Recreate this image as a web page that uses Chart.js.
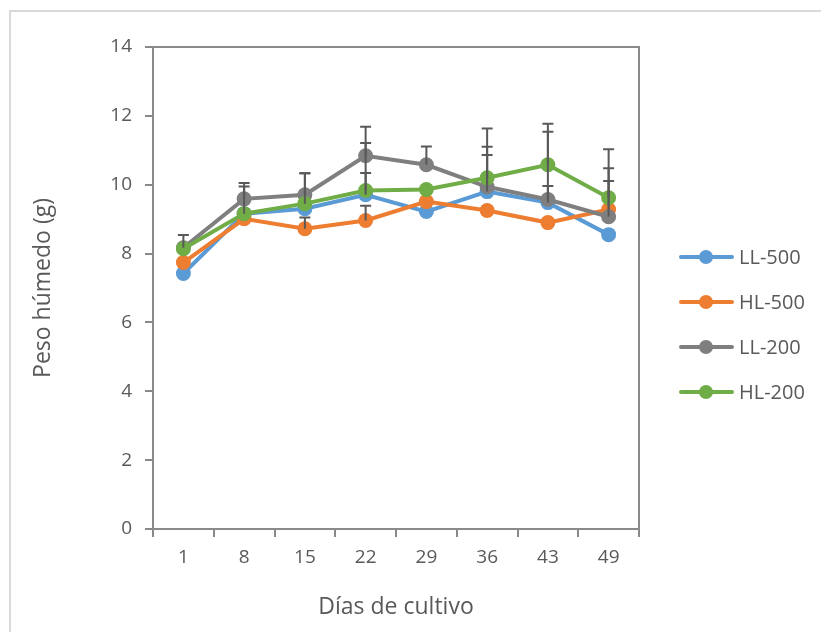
<!DOCTYPE html>
<html>
<head>
<meta charset="utf-8">
<script src="https://cdn.jsdelivr.net/npm/chart.js@4.4.0/dist/chart.umd.min.js"></script>
<style>
  html, body { margin: 0; padding: 0; background: #fff; }
  #wrap { width: 821px; height: 632px; position: relative; }
</style>
</head>
<body>
<div id="wrap"><canvas id="chart" width="821" height="632"></canvas></div>
<script>
const days = ["1", "8", "15", "22", "29", "36", "43", "49"];
const yTicks = [0, 2, 4, 6, 8, 10, 12, 14];

const ll500 = [7.42, 9.16, 9.30, 9.71, 9.22, 9.80, 9.48, 8.55];
const hl500 = [7.74, 9.01, 8.72, 8.96, 9.51, 9.25, 8.90, 9.28];
const ll200 = [8.17, 9.59, 9.71, 10.84, 10.58, 9.94, 9.57, 9.07];
const hl200 = [8.14, 9.16, 9.45, 9.83, 9.86, 10.20, 10.58, 9.62];

// upper error bars only
const ll500Err = [0, 0, 0, 0.63, 0, 1.06, 0.48, 0];
const hl500Err = [0, 0, 0.33, 0.43, 0, 0, 0, 0.83];
const ll200Err = [0.37, 0.46, 0.62, 0.84, 0.53, 1.16, 1.97, 1.41];
const hl200Err = [0, 0.79, 0.88, 1.38, 0, 1.43, 1.19, 1.41];

const FONT = "'Open Sans', 'Noto Sans', sans-serif";
const TXT = "#595959";
const AXIS = "#898989";

function series(label, data, err, color, order) {
  return {
    label, data, err,
    borderColor: color,
    backgroundColor: color,
    borderWidth: 4,
    pointRadius: 7.5,
    pointHoverRadius: 7.5,
    pointBorderWidth: 0,
    tension: 0,
    order
  };
}

// outer frame + plot box
const framePlugin = {
  id: "frame",
  beforeDraw(chart) {
    const c = chart.ctx;
    c.save();
    c.strokeStyle = "#d9d9d9";
    c.lineWidth = 2;
    c.strokeRect(10, 11, 830, 640);
    c.restore();
  },
  afterDraw(chart) {
    const a = chart.chartArea;
    const c = chart.ctx;
    c.save();
    c.strokeStyle = AXIS;
    c.lineWidth = 2;
    c.beginPath();
    c.moveTo(a.left, a.top);
    c.lineTo(a.right, a.top);
    c.lineTo(a.right, a.bottom);
    c.stroke();
    c.restore();
  }
};

const errorBars = {
  id: "errorBars",
  afterDatasetsDraw(chart) {
    const c = chart.ctx;
    const y = chart.scales.y;
    c.save();
    c.strokeStyle = "#595959";
    c.lineWidth = 2;
    chart.data.datasets.forEach((ds, i) => {
      const meta = chart.getDatasetMeta(i);
      meta.data.forEach((pt, j) => {
        const e = ds.err[j];
        if (!e) return;
        const top = y.getPixelForValue(ds.data[j] + e);
        c.beginPath();
        c.moveTo(pt.x, pt.y);
        c.lineTo(pt.x, top);
        c.moveTo(pt.x - 5.5, top);
        c.lineTo(pt.x + 5.5, top);
        c.stroke();
      });
    });
    c.restore();
  }
};

const sideLegend = {
  id: "sideLegend",
  afterDraw(chart) {
    const c = chart.ctx;
    const rows = [257, 302, 347, 392];
    c.save();
    c.font = "20px " + FONT;
    c.textBaseline = "middle";
    chart.data.datasets.forEach((ds, i) => {
      const yy = rows[i];
      c.strokeStyle = ds.borderColor;
      c.lineWidth = 4;
      c.lineCap = "round";
      c.beginPath();
      c.moveTo(681, yy);
      c.lineTo(732, yy);
      c.stroke();
      c.fillStyle = ds.backgroundColor;
      c.beginPath();
      c.arc(706, yy, 7, 0, Math.PI * 2);
      c.fill();
      c.fillStyle = TXT;
      c.fillText(ds.label, 739, yy + 1);
    });
    c.restore();
  }
};

new Chart(document.getElementById("chart"), {
  type: "line",
  data: {
    labels: days,
    datasets: [
      series("LL-500", ll500, ll500Err, "#5B9BD5", 4),
      series("HL-500", hl500, hl500Err, "#ED7D31", 3),
      series("LL-200", ll200, ll200Err, "#7F7F7F", 2),
      series("HL-200", hl200, hl200Err, "#70AD47", 1)
    ]
  },
  options: {
    responsive: false,
    animation: false,
    layout: { padding: { left: 0, top: 47, right: 182, bottom: 0 } },
    plugins: { legend: { display: false }, tooltip: { enabled: false } },
    scales: {
      x: {
        type: "category",
        offset: true,
        afterFit(s) { s.height = 103; },
        grid: { offset: true, drawOnChartArea: false, tickLength: 8, color: AXIS, lineWidth: 2 },
        border: { color: AXIS, width: 2 },
        ticks: { color: TXT, font: { family: FONT, size: 19 }, padding: 9 },
        title: {
          display: true, text: "Días de cultivo", color: TXT,
          font: { family: FONT, size: 23 }, padding: { top: 0, bottom: 11 }
        }
      },
      y: {
        min: 0, max: 14,
        afterFit(s) { s.width = 153; },
        afterBuildTicks(s) { s.ticks = yTicks.map(v => ({ value: v })); },
        grid: { drawOnChartArea: false, tickLength: 8, color: AXIS, lineWidth: 2 },
        border: { color: AXIS, width: 2 },
        ticks: { color: TXT, font: { family: FONT, size: 19 }, padding: 13 },
        title: {
          display: true, text: "Peso húmedo (g)", color: TXT,
          font: { family: FONT, size: 23 }, padding: { top: 30, bottom: 0 }
        }
      }
    }
  },
  plugins: [framePlugin, errorBars, sideLegend]
});
</script>
</body>
</html>
